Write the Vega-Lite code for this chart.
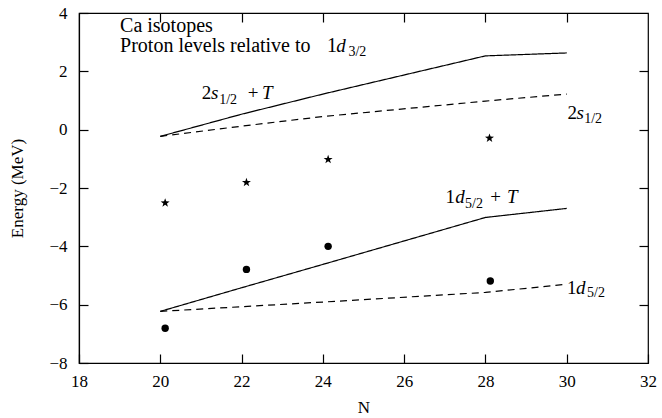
{
  "$schema": "https://vega.github.io/schema/vega-lite/v6.json",
  "width": 569,
  "height": 350,
  "autosize": {"type": "none"},
  "padding": {"left": 79, "top": 13, "right": 14, "bottom": 55},
  "background": "white",
  "config": {
    "font": "Times New Roman",
    "view": {"stroke": "#000", "strokeWidth": 1.2},
    "axis": {
      "grid": false,
      "domainColor": "#000",
      "tickColor": "#000",
      "labelColor": "#000",
      "titleColor": "#000",
      "labelFont": "Times New Roman",
      "titleFont": "Times New Roman",
      "labelFontSize": 17,
      "titleFontSize": 17,
      "titleFontWeight": "normal",
      "tickSize": -9,
      "tickWidth": 1.2,
      "domainWidth": 1.2,
      "labelFlush": false,
      "labelOverlap": false
    }
  },
  "datasets": {
    "levels": [
      {"series": "2s1/2+T", "N": 20, "E": -0.23},
      {"series": "2s1/2+T", "N": 22, "E": 0.53},
      {"series": "2s1/2+T", "N": 24, "E": 1.22},
      {"series": "2s1/2+T", "N": 28, "E": 2.53},
      {"series": "2s1/2+T", "N": 30, "E": 2.63},
      {"series": "2s1/2", "N": 20, "E": -0.23},
      {"series": "2s1/2", "N": 22, "E": 0.12},
      {"series": "2s1/2", "N": 24, "E": 0.45},
      {"series": "2s1/2", "N": 28, "E": 0.98},
      {"series": "2s1/2", "N": 30, "E": 1.22},
      {"series": "1d5/2+T", "N": 20, "E": -6.23},
      {"series": "1d5/2+T", "N": 22, "E": -5.42},
      {"series": "1d5/2+T", "N": 24, "E": -4.62},
      {"series": "1d5/2+T", "N": 28, "E": -3.01},
      {"series": "1d5/2+T", "N": 30, "E": -2.7},
      {"series": "1d5/2", "N": 20, "E": -6.23},
      {"series": "1d5/2", "N": 22, "E": -6.07},
      {"series": "1d5/2", "N": 24, "E": -5.91},
      {"series": "1d5/2", "N": 28, "E": -5.58},
      {"series": "1d5/2", "N": 30, "E": -5.3}
    ],
    "exp": [
      {"level": "2s1/2", "N": 20.12, "E": -2.51},
      {"level": "2s1/2", "N": 22.12, "E": -1.81},
      {"level": "2s1/2", "N": 24.13, "E": -1.02},
      {"level": "2s1/2", "N": 28.1, "E": -0.29},
      {"level": "1d5/2", "N": 20.12, "E": -6.81},
      {"level": "1d5/2", "N": 22.12, "E": -4.79},
      {"level": "1d5/2", "N": 24.13, "E": -4.0},
      {"level": "1d5/2", "N": 28.12, "E": -5.19}
    ],
    "labels": [
      {"t": "Ca isotopes", "N": 19.01, "E": 3.35, "s": "roman"},
      {"t": "Proton levels relative to", "N": 19.01, "E": 2.66, "s": "roman"},
      {"t": "1", "N": 24.1, "E": 2.66, "s": "roman"},
      {"t": "d", "N": 24.33, "E": 2.66, "s": "italic"},
      {"t": "3/2", "N": 24.63, "E": 2.52, "s": "sub"},
      {"t": "2", "N": 21.02, "E": 1.04, "s": "math"},
      {"t": "s", "N": 21.25, "E": 1.04, "s": "italic"},
      {"t": "1/2", "N": 21.45, "E": 0.87, "s": "sub"},
      {"t": "+", "N": 22.15, "E": 1.04, "s": "math"},
      {"t": "T", "N": 22.5, "E": 1.04, "s": "italic"},
      {"t": "2", "N": 30.02, "E": 0.38, "s": "math"},
      {"t": "s", "N": 30.24, "E": 0.38, "s": "italic"},
      {"t": "1/2", "N": 30.43, "E": 0.22, "s": "sub"},
      {"t": "1", "N": 27.02, "E": -2.53, "s": "math"},
      {"t": "d", "N": 27.26, "E": -2.53, "s": "italic"},
      {"t": "5/2", "N": 27.5, "E": -2.7, "s": "sub"},
      {"t": "+", "N": 28.12, "E": -2.53, "s": "math"},
      {"t": "T", "N": 28.53, "E": -2.53, "s": "italic"},
      {"t": "1", "N": 30.01, "E": -5.62, "s": "math"},
      {"t": "d", "N": 30.23, "E": -5.62, "s": "italic"},
      {"t": "5/2", "N": 30.5, "E": -5.75, "s": "sub"}
    ]
  },
  "layer": [
    {
      "data": {"name": "levels"},
      "mark": {"type": "line", "color": "#000", "strokeWidth": 1.2},
      "encoding": {
        "x": {
          "field": "N", "type": "quantitative",
          "scale": {"domain": [18, 32], "nice": false, "zero": false},
          "axis": {"orient": "bottom", "values": [18, 20, 22, 24, 26, 28, 30, 32], "labelPadding": 19, "title": "N", "titlePadding": 10}
        },
        "y": {
          "field": "E", "type": "quantitative",
          "scale": {"domain": [-8, 4], "nice": false, "zero": false},
          "axis": {"orient": "left", "values": [-8, -6, -4, -2, 0, 2, 4], "labelPadding": 21, "title": "Energy (MeV)", "titlePadding": 22}
        },
        "detail": {"field": "series"},
        "strokeDash": {
          "field": "series", "type": "nominal",
          "scale": {"domain": ["2s1/2+T", "2s1/2", "1d5/2+T", "1d5/2"], "range": [[1, 0], [7, 5], [1, 0], [7, 5]]},
          "legend": null
        }
      }
    },
    {
      "data": {"name": "exp"},
      "mark": {"type": "point", "filled": true, "color": "#000", "opacity": 1},
      "encoding": {
        "x": {
          "field": "N", "type": "quantitative",
          "scale": {"domain": [18, 32], "nice": false, "zero": false},
          "axis": {"orient": "top", "values": [20, 22, 24, 26, 28, 30], "labels": false, "domain": false, "title": null}
        },
        "y": {
          "field": "E", "type": "quantitative",
          "scale": {"domain": [-8, 4], "nice": false, "zero": false},
          "axis": {"orient": "right", "values": [-6, -4, -2, 0, 2], "labels": false, "domain": false, "title": null}
        },
        "shape": {
          "field": "level", "type": "nominal",
          "scale": {"domain": ["2s1/2", "1d5/2"], "range": ["M0,-1L0.2351,-0.3236L0.9511,-0.309L0.3804,0.1236L0.5878,0.809L0,0.4L-0.5878,0.809L-0.3804,0.1236L-0.9511,-0.309L-0.2351,-0.3236Z", "circle"]},
          "legend": null
        },
        "size": {
          "field": "level", "type": "nominal",
          "scale": {"domain": ["2s1/2", "1d5/2"], "range": [90, 55]},
          "legend": null
        }
      }
    },
    {
      "data": {"name": "labels"},
      "transform": [{"filter": "datum.s === 'roman'"}],
      "mark": {"type": "text", "align": "left", "baseline": "alphabetic", "fontSize": 20, "color": "#000", "font": "Times New Roman"},
      "encoding": {
        "x": {"field": "N", "type": "quantitative", "scale": {"domain": [18, 32], "nice": false, "zero": false}, "axis": null},
        "y": {"field": "E", "type": "quantitative", "scale": {"domain": [-8, 4], "nice": false, "zero": false}, "axis": null},
        "text": {"field": "t"}
      }
    },
    {
      "data": {"name": "labels"},
      "transform": [{"filter": "datum.s === 'math'"}],
      "mark": {"type": "text", "align": "left", "baseline": "alphabetic", "fontSize": 19, "color": "#000", "font": "Times New Roman"},
      "encoding": {
        "x": {"field": "N", "type": "quantitative", "scale": {"domain": [18, 32], "nice": false, "zero": false}, "axis": null},
        "y": {"field": "E", "type": "quantitative", "scale": {"domain": [-8, 4], "nice": false, "zero": false}, "axis": null},
        "text": {"field": "t"}
      }
    },
    {
      "data": {"name": "labels"},
      "transform": [{"filter": "datum.s === 'italic'"}],
      "mark": {"type": "text", "align": "left", "baseline": "alphabetic", "fontSize": 19, "fontStyle": "italic", "color": "#000", "font": "Times New Roman"},
      "encoding": {
        "x": {"field": "N", "type": "quantitative", "scale": {"domain": [18, 32], "nice": false, "zero": false}, "axis": null},
        "y": {"field": "E", "type": "quantitative", "scale": {"domain": [-8, 4], "nice": false, "zero": false}, "axis": null},
        "text": {"field": "t"}
      }
    },
    {
      "data": {"name": "labels"},
      "transform": [{"filter": "datum.s === 'sub'"}],
      "mark": {"type": "text", "align": "left", "baseline": "alphabetic", "fontSize": 14, "color": "#000", "font": "Times New Roman"},
      "encoding": {
        "x": {"field": "N", "type": "quantitative", "scale": {"domain": [18, 32], "nice": false, "zero": false}, "axis": null},
        "y": {"field": "E", "type": "quantitative", "scale": {"domain": [-8, 4], "nice": false, "zero": false}, "axis": null},
        "text": {"field": "t"}
      }
    }
  ],
  "resolve": {"axis": {"x": "independent", "y": "independent"}}
}
